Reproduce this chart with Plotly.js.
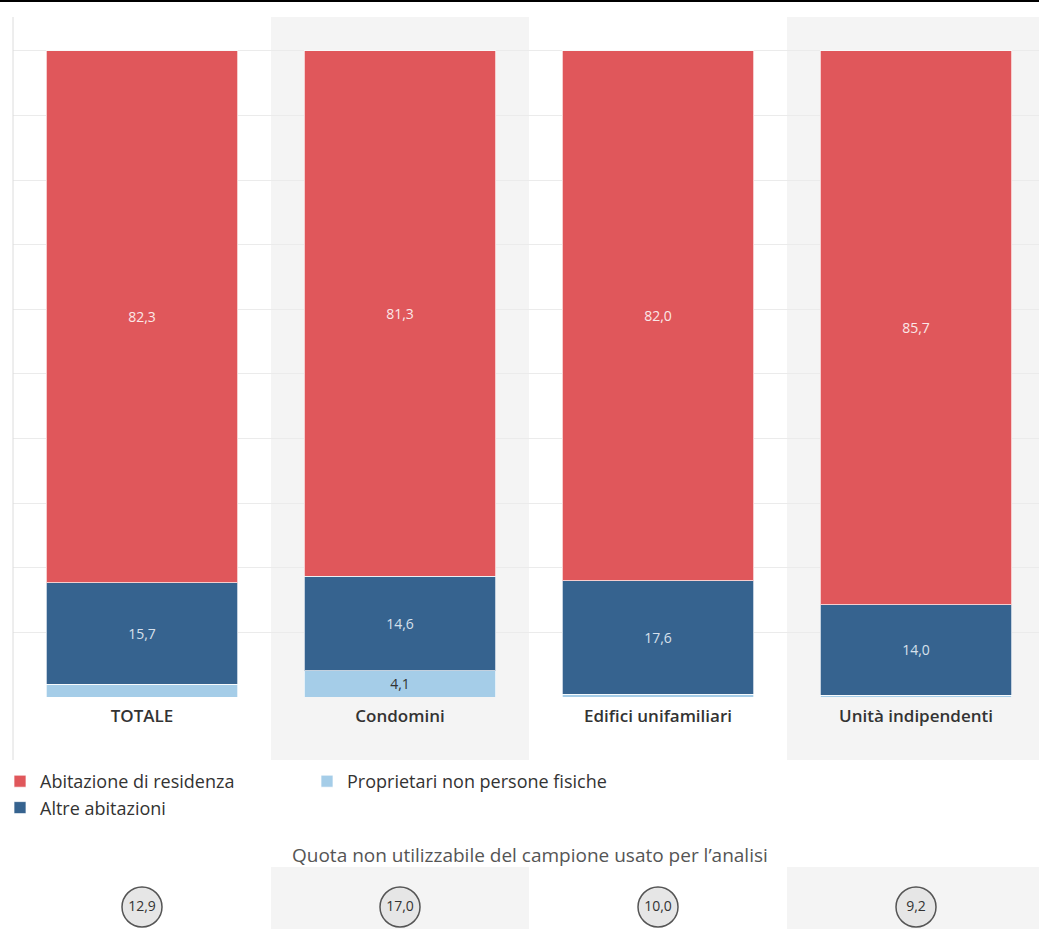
<!DOCTYPE html>
<html>
<head>
<meta charset="utf-8">
<script src="https://cdn.plot.ly/plotly-3.0.1.min.js"></script>
<style>html,body{margin:0;padding:0;background:#fff;}#chart{width:1039px;height:929px;}</style>
</head>
<body>
<div id="chart"></div>
<script>
// ---- data ----
const categories = ['TOTALE', 'Condomini', 'Edifici unifamiliari', 'Unità indipendenti'];
const residenza = [82.3, 81.3, 82.0, 85.7];
const altre = [15.7, 14.6, 17.6, 14.0];
const proprietari = [2.0, 4.1, 0.4, 0.3];
const quota = [12.9, 17.0, 10.0, 9.2];
const seriesNames = ['Abitazione di residenza', 'Altre abitazioni', 'Proprietari non persone fisiche'];
const quotaTitle = 'Quota non utilizzabile del campione usato per l\u2019analisi';

// ---- helpers ----
const W = 1039, H = 929;
const px = x => x / W;            // pixel -> paper x
const py = y => 1 - y / H;        // pixel -> paper y
const fmt = v => v.toFixed(1).replace('.', ',');
const lbl = arr => arr.map(v => v >= 3 ? fmt(v) : '');
const FONT = 'Open Sans, Noto Sans, sans-serif';

const barCommon = {
  type: 'bar', x: categories, width: 0.744,
  textposition: 'inside', insidetextanchor: 'middle',
  constraintext: 'none', hoverinfo: 'skip', cliponaxis: false
};

const traces = [
  Object.assign({}, barCommon, {
    name: seriesNames[2], y: proprietari, text: lbl(proprietari),
    marker: {color: '#a5cde8', line: {color: 'rgba(255,255,255,0.7)', width: 1}},
    textfont: {family: FONT, size: 14, color: '#333333'},
    legend: 'legend2'
  }),
  Object.assign({}, barCommon, {
    name: seriesNames[1], y: altre, text: lbl(altre),
    marker: {color: '#36638f', line: {color: 'rgba(255,255,255,0.7)', width: 1}},
    textfont: {family: FONT, size: 14, color: '#d6e0ec'},
    legend: 'legend', legendrank: 2
  }),
  Object.assign({}, barCommon, {
    name: seriesNames[0], y: residenza, text: lbl(residenza),
    marker: {color: '#e0575b', line: {color: 'rgba(255,255,255,0.7)', width: 1}},
    textfont: {family: FONT, size: 14, color: '#fbe8e8'},
    legend: 'legend', legendrank: 1
  }),
  {
    type: 'scatter', mode: 'markers+text', x: categories, y: quota.map(() => 0),
    yaxis: 'y2', text: quota.map(fmt), textposition: 'middle center',
    marker: {size: 40, color: '#e6e6e6', line: {color: '#555555', width: 1.5}},
    textfont: {family: FONT, size: 14, color: '#333333'},
    showlegend: false, hoverinfo: 'skip', cliponaxis: false
  }
];

// alternating grey column bands
const shapes = [];
categories.forEach((c, i) => {
  if (i % 2 === 1) {
    shapes.push({type: 'rect', xref: 'x', yref: 'paper', x0: i - 0.5, x1: i + 0.5,
      y0: py(760), y1: py(17), fillcolor: '#f4f4f4', line: {width: 0}, layer: 'below'});
    shapes.push({type: 'rect', xref: 'x', yref: 'paper', x0: i - 0.5, x1: i + 0.5,
      y0: 0, y1: py(867), fillcolor: '#f4f4f4', line: {width: 0}, layer: 'below'});
  }
});
shapes.push({type: 'line', xref: 'paper', yref: 'paper', x0: 0, x1: 1, y0: py(1), y1: py(1),
  line: {color: '#000', width: 2}});
shapes.push({type: 'line', xref: 'paper', yref: 'paper', x0: px(13), x1: px(13), y0: py(760), y1: py(17),
  line: {color: '#dcdcdc', width: 1}});

const layout = {
  width: W, height: H,
  margin: {l: 0, r: 0, t: 0, b: 0, pad: 0},
  paper_bgcolor: '#ffffff', plot_bgcolor: 'rgba(0,0,0,0)',
  barmode: 'stack', bargap: 0,
  font: {family: FONT, color: '#333333'},
  showlegend: true,
  xaxis: {
    domain: [px(13), 1], range: [-0.5, 3.4767], type: 'category',
    showgrid: false, zeroline: false, showline: false, ticks: '',
    tickfont: {family: FONT, size: 17, color: '#333333', weight: 600},
    ticklabelstandoff: 7, automargin: false, fixedrange: true
  },
  yaxis: {
    domain: [py(697), py(17)], range: [0, 105.26],
    showgrid: true, gridcolor: '#ebebeb', gridwidth: 1, dtick: 10,
    zeroline: false, showticklabels: false, ticks: '', automargin: false, fixedrange: true
  },
  yaxis2: {
    domain: [0, py(885)], range: [-1, 1], anchor: 'x',
    visible: false, fixedrange: true
  },
  legend: {
    x: px(0), y: py(763), xanchor: 'left', yanchor: 'top',
    orientation: 'v', traceorder: 'normal',
    font: {family: FONT, size: 18, color: '#333333'},
    bgcolor: 'rgba(0,0,0,0)', borderwidth: 0, tracegroupgap: 0, itemclick: false
  },
  legend2: {
    x: px(307), y: py(763), xanchor: 'left', yanchor: 'top',
    orientation: 'v',
    font: {family: FONT, size: 18, color: '#333333'},
    bgcolor: 'rgba(0,0,0,0)', borderwidth: 0, itemclick: false
  },
  annotations: [{
    text: quotaTitle, xref: 'paper', yref: 'paper', x: px(530), y: py(855),
    xanchor: 'center', yanchor: 'middle', showarrow: false,
    font: {family: FONT, size: 19, color: '#555555'}
  }],
  shapes: shapes
};

Plotly.newPlot('chart', traces, layout, {displayModeBar: false, staticPlot: true});
</script>
</body>
</html>
